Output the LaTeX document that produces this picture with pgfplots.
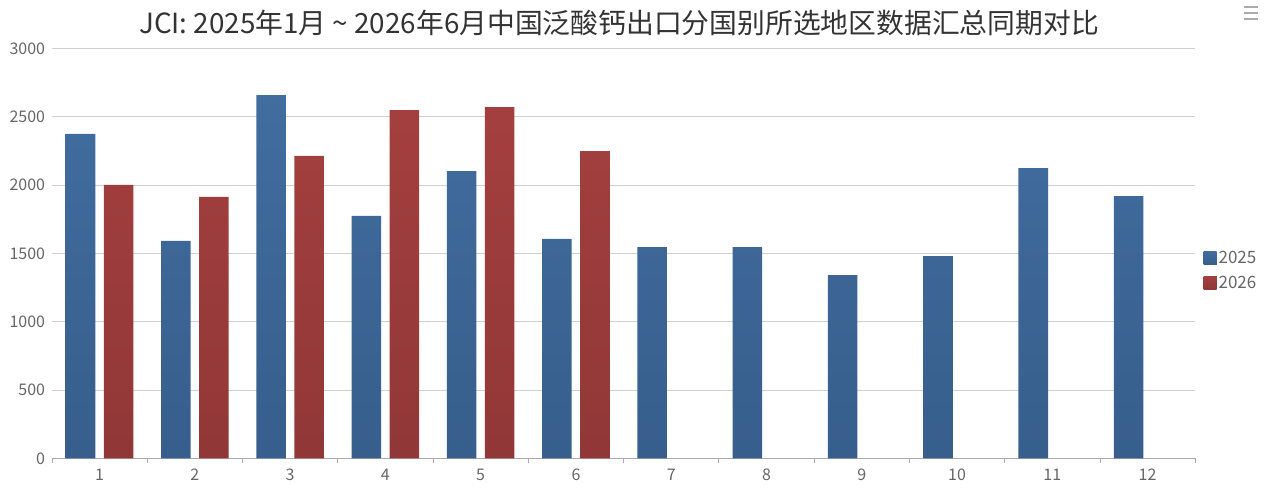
\documentclass[border=0pt]{standalone}
\usepackage{pgfplots}
\pgfplotsset{compat=1.18}
\usepackage{fontspec}
\setmainfont{Noto Sans CJK SC}
\definecolor{blueA}{HTML}{416D9F}
\definecolor{blueB}{HTML}{375E8C}
\definecolor{redA}{HTML}{A43F3F}
\definecolor{redB}{HTML}{913737}
\definecolor{gridc}{HTML}{D0D0D0}
\definecolor{axisc}{HTML}{AAAAAA}
\definecolor{labc}{HTML}{666666}
\definecolor{titc}{HTML}{333333}
\begin{document}
\begin{tikzpicture}[x=1pt,y=1pt]
\useasboundingbox (0,0) rectangle (1265,487);
\node[text=titc, font=\fontsize{27.8}{31}\selectfont] at (619,464) {JCI: 2025年1月 \textasciitilde{} 2026年6月中国泛酸钙出口分国别所选地区数据汇总同期对比};
\foreach \yy in {468,474,480} \draw[color=axisc, line width=1.5pt] (1244,\yy) -- (1258,\yy);
\begin{axis}[
  at={(54.5,21)}, anchor=south west, scale only axis,
  width=1143.3pt, height=410pt,
  xmin=0.5, xmax=12.5, ymin=0, ymax=3000,
  ybar, bar width=0.31,
  xtick={1,...,12},
  minor xtick={0.5,1.5,...,12.5},
  major x tick style={draw=none},
  minor x tick style={color=axisc, line width=0.8pt},
  minor tick length=5pt,
  tick align=outside,
  ytick={0,500,...,3000},
  major y tick style={draw=none},
  ymajorgrids, grid style={color=gridc, line width=0.8pt},
  axis x line*=bottom, axis y line*=left,
  y axis line style={draw=none},
  x axis line style={color=axisc, line width=0.8pt, -},
  xticklabel style={text=labc, font=\fontsize{16}{18}\selectfont, yshift=-3pt},
  yticklabel style={text=labc, font=\fontsize{16}{18}\selectfont, xshift=1pt},
  /pgf/number format/assume math mode=true,
  /pgf/number format/1000 sep={},
  legend style={at={(1.0045,0.458)}, anchor=west, draw=none, fill=none,
     font=\fontsize{17}{19}\selectfont, text=labc, row sep=7pt,
     /tikz/every even column/.append style={column sep=2pt}},
  legend cell align=left,
  clip=false,
]
\addplot[draw=none, top color=blueA, bottom color=blueB, bar shift=-0.2,
  legend image code/.code={\fill[blueA] (0pt,-6.5pt) rectangle (13pt,6.5pt);}]
  coordinates {(1,2373) (2,1590) (3,2658) (4,1773) (5,2102) (6,1605) (7,1545) (8,1545) (9,1340) (10,1480) (11,2124) (12,1919)};
\addlegendentry{2025}
\addplot[draw=none, top color=redA, bottom color=redB, bar shift=0.2,
  legend image code/.code={\fill[redA!90!black] (0pt,-6.5pt) rectangle (13pt,6.5pt);}]
  coordinates {(1,2000) (2,1912) (3,2212) (4,2548) (5,2570) (6,2248)};
\addlegendentry{2026}
\end{axis}
\end{tikzpicture}
\end{document}
